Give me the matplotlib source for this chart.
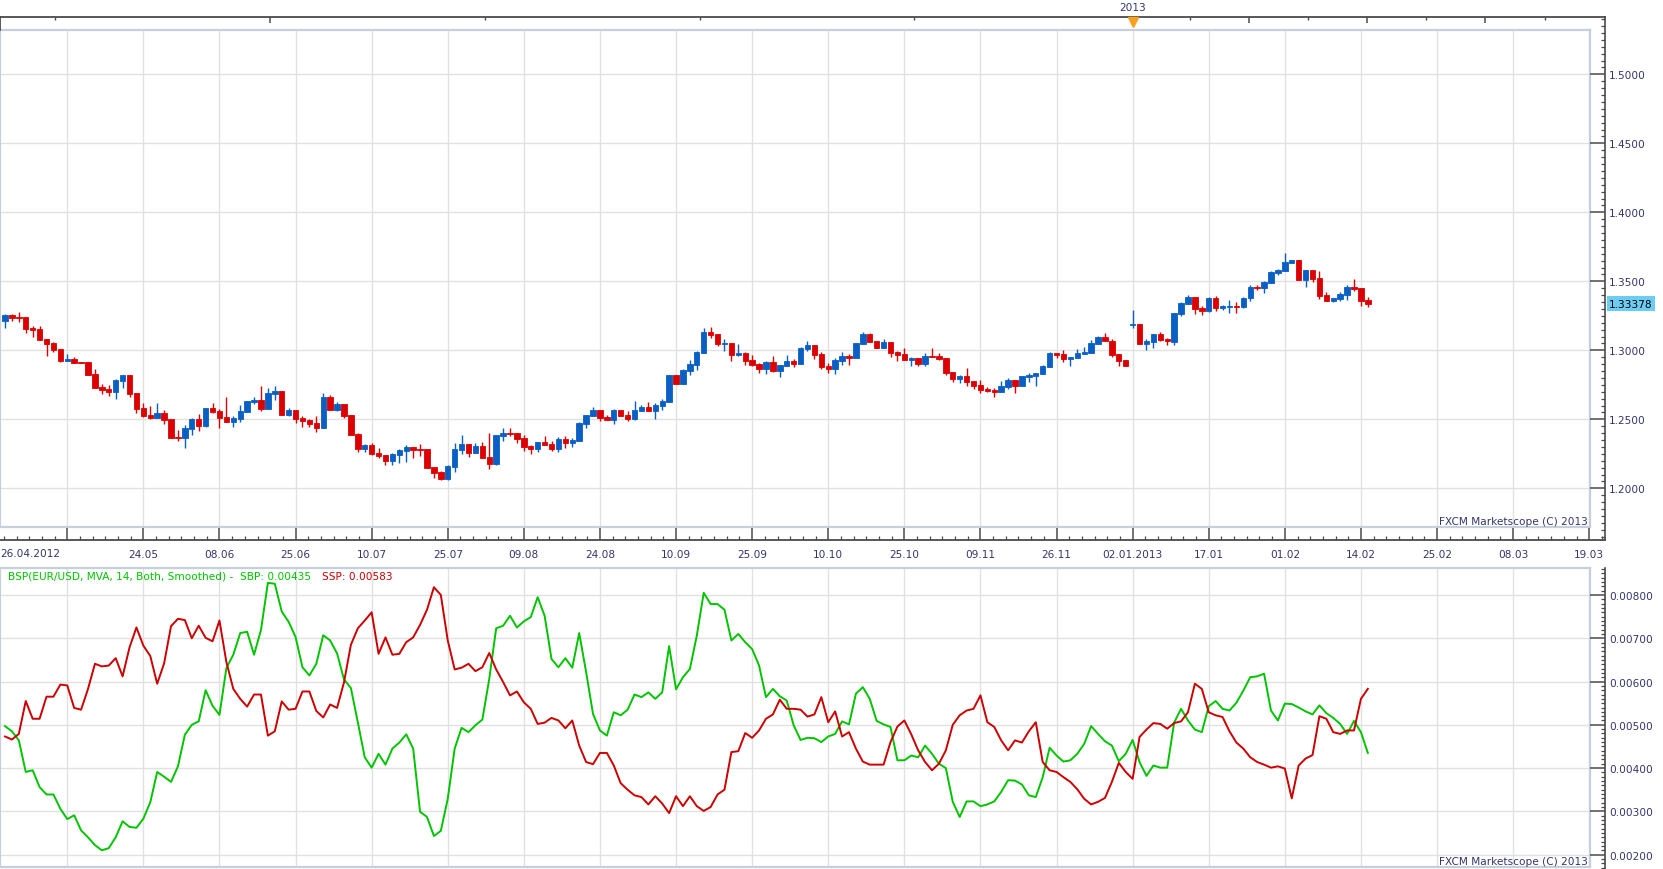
import matplotlib
matplotlib.use("Agg")
import matplotlib.pyplot as plt
import matplotlib.transforms as mtransforms
from matplotlib.ticker import FixedLocator, MultipleLocator, FormatStrFormatter
import numpy as np

# ---------------- data (EUR/USD daily candles) ----------------
opens = [1.3212, 1.3256, 1.3241, 1.3241, 1.3162, 1.3154, 1.3082, 1.3053, 1.3009, 1.2922,
         1.2937, 1.2915, 1.2915, 1.2828, 1.2734, 1.2720, 1.2698, 1.2778, 1.2821, 1.2691,
         1.2582, 1.2531, 1.2509, 1.2546, 1.2502, 1.2372, 1.2365, 1.2430, 1.2502, 1.2451,
         1.2582, 1.2560, 1.2517, 1.2480, 1.2502, 1.2553, 1.2626, 1.2640, 1.2575, 1.2683,
         1.2705, 1.2531, 1.2567, 1.2509, 1.2495, 1.2473, 1.2437, 1.2662, 1.2567, 1.2611,
         1.2531, 1.2394, 1.2285, 1.2314, 1.2256, 1.2241, 1.2198, 1.2241, 1.2270, 1.2299,
         1.2285, 1.2285, 1.2154, 1.2118, 1.2070, 1.2154, 1.2278, 1.2321, 1.2256, 1.2307,
         1.2227, 1.2176, 1.2379, 1.2401, 1.2401, 1.2365, 1.2307, 1.2285, 1.2336, 1.2321,
         1.2285, 1.2357, 1.2328, 1.2343, 1.2466, 1.2524, 1.2567, 1.2517, 1.2495, 1.2567,
         1.2531, 1.2502, 1.2560, 1.2589, 1.2560, 1.2596, 1.2626, 1.2821, 1.2756, 1.2850,
         1.2894, 1.2980, 1.3133, 1.3118, 1.3046, 1.3053, 1.2966, 1.2980, 1.2930, 1.2901,
         1.2865, 1.2915, 1.2850, 1.2886, 1.2922, 1.2901, 1.3009, 1.3038, 1.2973, 1.2886,
         1.2865, 1.2922, 1.2959, 1.2944, 1.3046, 1.3118, 1.3067, 1.3017, 1.3060, 1.2988,
         1.2973, 1.2930, 1.2944, 1.2901, 1.2959, 1.2959, 1.2944, 1.2843, 1.2792, 1.2814,
         1.2778, 1.2749, 1.2720, 1.2712, 1.2698, 1.2734, 1.2785, 1.2741, 1.2807, 1.2814,
         1.2828, 1.2879, 1.2980, 1.2973, 1.2937, 1.2944, 1.2973, 1.2980, 1.3046, 1.3094,
         1.3070, 1.2973, 1.2930, 1.3186, 1.3191, 1.3048, 1.3060, 1.3118, 1.3084, 1.3060,
         1.3265, 1.3338, 1.3386, 1.3309, 1.3287, 1.3379, 1.3309, 1.3311, 1.3319, 1.3314,
         1.3379, 1.3459, 1.3452, 1.3490, 1.3563, 1.3577, 1.3635, 1.3654, 1.3512, 1.3584,
         1.3524, 1.3401, 1.3360, 1.3372, 1.3403, 1.3459, 1.3452, 1.3364]
highs = [1.3265, 1.3265, 1.3280, 1.3241, 1.3176, 1.3176, 1.3082, 1.3060, 1.3009, 1.2973,
         1.2949, 1.2915, 1.2915, 1.2865, 1.2756, 1.2749, 1.2792, 1.2821, 1.2821, 1.2691,
         1.2618, 1.2596, 1.2618, 1.2567, 1.2502, 1.2422, 1.2459, 1.2509, 1.2538, 1.2582,
         1.2618, 1.2575, 1.2662, 1.2524, 1.2604, 1.2633, 1.2662, 1.2741, 1.2727, 1.2741,
         1.2705, 1.2582, 1.2567, 1.2524, 1.2502, 1.2524, 1.2691, 1.2676, 1.2626, 1.2611,
         1.2531, 1.2401, 1.2321, 1.2328, 1.2292, 1.2241, 1.2256, 1.2285, 1.2314, 1.2299,
         1.2321, 1.2285, 1.2154, 1.2125, 1.2169, 1.2328, 1.2386, 1.2321, 1.2328, 1.2336,
         1.2401, 1.2386, 1.2437, 1.2437, 1.2401, 1.2386, 1.2314, 1.2336, 1.2379, 1.2343,
         1.2372, 1.2379, 1.2365, 1.2480, 1.2531, 1.2589, 1.2567, 1.2531, 1.2575, 1.2567,
         1.2560, 1.2633, 1.2604, 1.2626, 1.2618, 1.2647, 1.2821, 1.2821, 1.2865, 1.2930,
         1.2995, 1.3162, 1.3169, 1.3118, 1.3082, 1.3053, 1.3046, 1.2988, 1.2966, 1.2908,
         1.2922, 1.2959, 1.2894, 1.2966, 1.2937, 1.3024, 1.3067, 1.3038, 1.2988, 1.2908,
         1.2944, 1.2988, 1.2973, 1.3053, 1.3133, 1.3125, 1.3067, 1.3082, 1.3060, 1.2995,
         1.3017, 1.2951, 1.2944, 1.2980, 1.3017, 1.2980, 1.2944, 1.2843, 1.2821, 1.2872,
         1.2778, 1.2785, 1.2734, 1.2727, 1.2778, 1.2799, 1.2785, 1.2814, 1.2836, 1.2836,
         1.2894, 1.2988, 1.2980, 1.3002, 1.2951, 1.3009, 1.3024, 1.3075, 1.3104, 1.3125,
         1.3082, 1.2973, 1.2930, 1.3292, 1.3191, 1.3082, 1.3118, 1.3133, 1.3089, 1.3270,
         1.3350, 1.3403, 1.3386, 1.3321, 1.3384, 1.3393, 1.3328, 1.3364, 1.3350, 1.3384,
         1.3473, 1.3473, 1.3502, 1.3577, 1.3592, 1.3708, 1.3654, 1.3654, 1.3584, 1.3584,
         1.3577, 1.3422, 1.3379, 1.3422, 1.3473, 1.3517, 1.3452, 1.3386]
lows = [1.3162, 1.3212, 1.3207, 1.3125, 1.3096, 1.3075, 1.2959, 1.2990, 1.2915, 1.2922,
        1.2908, 1.2908, 1.2821, 1.2727, 1.2683, 1.2669, 1.2647, 1.2727, 1.2662, 1.2546,
        1.2517, 1.2502, 1.2509, 1.2466, 1.2365, 1.2343, 1.2292, 1.2386, 1.2415, 1.2444,
        1.2546, 1.2437, 1.2480, 1.2444, 1.2480, 1.2553, 1.2611, 1.2560, 1.2575, 1.2640,
        1.2531, 1.2524, 1.2473, 1.2444, 1.2444, 1.2408, 1.2437, 1.2567, 1.2560, 1.2509,
        1.2386, 1.2263, 1.2263, 1.2241, 1.2220, 1.2169, 1.2169, 1.2183, 1.2191, 1.2220,
        1.2234, 1.2147, 1.2075, 1.2058, 1.2062, 1.2118, 1.2249, 1.2227, 1.2256, 1.2220,
        1.2140, 1.2169, 1.2343, 1.2379, 1.2328, 1.2270, 1.2249, 1.2263, 1.2314, 1.2270,
        1.2263, 1.2292, 1.2299, 1.2343, 1.2437, 1.2524, 1.2488, 1.2495, 1.2466, 1.2524,
        1.2488, 1.2495, 1.2560, 1.2560, 1.2502, 1.2567, 1.2626, 1.2756, 1.2756, 1.2821,
        1.2857, 1.2980, 1.3089, 1.3031, 1.2995, 1.2922, 1.2959, 1.2894, 1.2886, 1.2836,
        1.2828, 1.2843, 1.2807, 1.2886, 1.2879, 1.2901, 1.2995, 1.2937, 1.2865, 1.2836,
        1.2828, 1.2894, 1.2894, 1.2944, 1.3046, 1.3060, 1.3017, 1.3017, 1.2951, 1.2922,
        1.2930, 1.2886, 1.2886, 1.2886, 1.2951, 1.2930, 1.2821, 1.2770, 1.2763, 1.2741,
        1.2720, 1.2691, 1.2698, 1.2662, 1.2698, 1.2720, 1.2691, 1.2741, 1.2770, 1.2741,
        1.2828, 1.2879, 1.2944, 1.2915, 1.2886, 1.2944, 1.2973, 1.2980, 1.3046, 1.3065,
        1.2951, 1.2884, 1.2889, 1.3164, 1.3048, 1.3005, 1.3019, 1.3067, 1.3041, 1.3041,
        1.3249, 1.3338, 1.3265, 1.3258, 1.3278, 1.3287, 1.3290, 1.3273, 1.3273, 1.3309,
        1.3355, 1.3435, 1.3418, 1.3490, 1.3548, 1.3577, 1.3635, 1.3509, 1.3461, 1.3497,
        1.3372, 1.3360, 1.3350, 1.3357, 1.3367, 1.3430, 1.3321, 1.3314]
closes = [1.3256, 1.3234, 1.3234, 1.3154, 1.3149, 1.3075, 1.3046, 1.3005, 1.2922, 1.2937,
          1.2908, 1.2908, 1.2821, 1.2727, 1.2712, 1.2698, 1.2785, 1.2821, 1.2683, 1.2575,
          1.2524, 1.2509, 1.2546, 1.2495, 1.2365, 1.2365, 1.2437, 1.2502, 1.2451, 1.2582,
          1.2553, 1.2509, 1.2480, 1.2509, 1.2560, 1.2633, 1.2640, 1.2575, 1.2691, 1.2705,
          1.2531, 1.2567, 1.2502, 1.2488, 1.2466, 1.2437, 1.2662, 1.2567, 1.2611, 1.2524,
          1.2386, 1.2285, 1.2314, 1.2249, 1.2234, 1.2198, 1.2249, 1.2278, 1.2299, 1.2278,
          1.2278, 1.2147, 1.2111, 1.2068, 1.2162, 1.2285, 1.2321, 1.2256, 1.2307, 1.2220,
          1.2176, 1.2386, 1.2401, 1.2394, 1.2357, 1.2299, 1.2285, 1.2336, 1.2314, 1.2285,
          1.2357, 1.2328, 1.2350, 1.2473, 1.2531, 1.2567, 1.2509, 1.2495, 1.2567, 1.2524,
          1.2502, 1.2567, 1.2589, 1.2560, 1.2604, 1.2633, 1.2821, 1.2756, 1.2857, 1.2901,
          1.2988, 1.3133, 1.3111, 1.3046, 1.3053, 1.2966, 1.2980, 1.2922, 1.2894, 1.2865,
          1.2915, 1.2850, 1.2894, 1.2922, 1.2901, 1.3017, 1.3038, 1.2966, 1.2879, 1.2865,
          1.2930, 1.2959, 1.2944, 1.3053, 1.3118, 1.3060, 1.3017, 1.3060, 1.2980, 1.2966,
          1.2930, 1.2944, 1.2901, 1.2959, 1.2951, 1.2937, 1.2836, 1.2792, 1.2814, 1.2770,
          1.2741, 1.2712, 1.2705, 1.2698, 1.2741, 1.2785, 1.2741, 1.2814, 1.2821, 1.2836,
          1.2886, 1.2980, 1.2966, 1.2937, 1.2951, 1.2980, 1.2988, 1.3053, 1.3096, 1.3065,
          1.2966, 1.2922, 1.2889, 1.3191, 1.3048, 1.3067, 1.3118, 1.3077, 1.3065, 1.3270,
          1.3343, 1.3386, 1.3302, 1.3287, 1.3379, 1.3306, 1.3319, 1.3319, 1.3314, 1.3379,
          1.3459, 1.3454, 1.3495, 1.3570, 1.3584, 1.3642, 1.3654, 1.3509, 1.3584, 1.3519,
          1.3393, 1.3360, 1.3379, 1.3408, 1.3459, 1.3444, 1.3360, 1.33378]

# BSP indicator: SBP (green) and SSP (red)
sbp = [0.00497, 0.00485, 0.00464, 0.00391, 0.00395, 0.00356, 0.00339, 0.00339, 0.00306, 0.00282,
       0.00291, 0.00256, 0.00240, 0.00222, 0.00210, 0.00215, 0.00240, 0.00277, 0.00264, 0.00262,
       0.00283, 0.00321, 0.00391, 0.00380, 0.00368, 0.00404, 0.00477, 0.00500, 0.00508, 0.00580,
       0.00544, 0.00523, 0.00631, 0.00662, 0.00712, 0.00715, 0.00662, 0.00719, 0.00828, 0.00826,
       0.00762, 0.00738, 0.00703, 0.00633, 0.00614, 0.00641, 0.00707, 0.00695, 0.00665, 0.00605,
       0.00585, 0.00506, 0.00425, 0.00401, 0.00433, 0.00408, 0.00445, 0.00459, 0.00478, 0.00445,
       0.00299, 0.00287, 0.00243, 0.00255, 0.00329, 0.00445, 0.00493, 0.00483, 0.00499, 0.00512,
       0.00606, 0.00723, 0.00729, 0.00752, 0.00725, 0.00739, 0.00749, 0.00795, 0.00752, 0.00652,
       0.00633, 0.00654, 0.00632, 0.00712, 0.00622, 0.00525, 0.00487, 0.00475, 0.00529, 0.00522,
       0.00535, 0.00570, 0.00564, 0.00575, 0.00560, 0.00575, 0.00682, 0.00582, 0.00610, 0.00629,
       0.00706, 0.00805, 0.00779, 0.00779, 0.00766, 0.00695, 0.00710, 0.00691, 0.00675, 0.00637,
       0.00564, 0.00583, 0.00566, 0.00556, 0.00499, 0.00465, 0.00470, 0.00469, 0.00460, 0.00473,
       0.00479, 0.00508, 0.00501, 0.00572, 0.00587, 0.00560, 0.00509, 0.00501, 0.00495, 0.00418,
       0.00418, 0.00429, 0.00425, 0.00452, 0.00433, 0.00410, 0.00400, 0.00322, 0.00287, 0.00323,
       0.00323, 0.00312, 0.00316, 0.00323, 0.00345, 0.00372, 0.00371, 0.00362, 0.00337, 0.00333,
       0.00379, 0.00447, 0.00429, 0.00415, 0.00418, 0.00433, 0.00456, 0.00497, 0.00479, 0.00462,
       0.00452, 0.00416, 0.00433, 0.00465, 0.00414, 0.00382, 0.00406, 0.00401, 0.00401, 0.00505,
       0.00537, 0.00510, 0.00489, 0.00483, 0.00543, 0.00555, 0.00537, 0.00533, 0.00551, 0.00579,
       0.00610, 0.00612, 0.00618, 0.00533, 0.00510, 0.00549, 0.00548, 0.00540, 0.00531, 0.00524,
       0.00545, 0.00527, 0.00516, 0.00502, 0.00479, 0.00509, 0.00483, 0.00435]
ssp = [0.00473, 0.00466, 0.00479, 0.00555, 0.00514, 0.00514, 0.00565, 0.00565, 0.00593, 0.00591,
       0.00539, 0.00535, 0.00583, 0.00641, 0.00635, 0.00637, 0.00654, 0.00612, 0.00679, 0.00725,
       0.00683, 0.00659, 0.00595, 0.00642, 0.00728, 0.00745, 0.00742, 0.00700, 0.00729, 0.00701,
       0.00693, 0.00741, 0.00645, 0.00583, 0.00560, 0.00542, 0.00570, 0.00570, 0.00475, 0.00485,
       0.00554, 0.00535, 0.00537, 0.00577, 0.00577, 0.00532, 0.00517, 0.00547, 0.00539, 0.00598,
       0.00685, 0.00723, 0.00741, 0.00760, 0.00664, 0.00702, 0.00662, 0.00664, 0.00691, 0.00702,
       0.00731, 0.00766, 0.00818, 0.00800, 0.00695, 0.00628, 0.00632, 0.00641, 0.00624, 0.00633,
       0.00666, 0.00628, 0.00599, 0.00568, 0.00577, 0.00552, 0.00537, 0.00502, 0.00505, 0.00516,
       0.00510, 0.00492, 0.00510, 0.00452, 0.00414, 0.00409, 0.00435, 0.00435, 0.00406, 0.00365,
       0.00350, 0.00337, 0.00333, 0.00316, 0.00335, 0.00318, 0.00296, 0.00335, 0.00312, 0.00335,
       0.00312, 0.00301, 0.00310, 0.00339, 0.00350, 0.00437, 0.00439, 0.00481, 0.00470, 0.00487,
       0.00514, 0.00524, 0.00558, 0.00537, 0.00537, 0.00535, 0.00519, 0.00524, 0.00564, 0.00506,
       0.00531, 0.00473, 0.00483, 0.00445, 0.00415, 0.00408, 0.00408, 0.00408, 0.00460, 0.00496,
       0.00510, 0.00478, 0.00441, 0.00414, 0.00395, 0.00410, 0.00441, 0.00500, 0.00522, 0.00533,
       0.00537, 0.00568, 0.00506, 0.00495, 0.00464, 0.00441, 0.00464, 0.00459, 0.00485, 0.00506,
       0.00414, 0.00395, 0.00391, 0.00379, 0.00368, 0.00351, 0.00329, 0.00316, 0.00322, 0.00331,
       0.00368, 0.00412, 0.00391, 0.00375, 0.00472, 0.00489, 0.00504, 0.00502, 0.00491, 0.00504,
       0.00508, 0.00529, 0.00595, 0.00583, 0.00529, 0.00522, 0.00518, 0.00485, 0.00459, 0.00445,
       0.00425, 0.00414, 0.00408, 0.00401, 0.00404, 0.00399, 0.00330, 0.00406, 0.00422, 0.00430,
       0.00520, 0.00514, 0.00483, 0.00479, 0.00487, 0.00487, 0.00560, 0.00583]

first_date_label = "26.04.2012"
date_labels = ["24.05", "08.06", "25.06", "10.07", "25.07", "09.08", "24.08", "10.09",
               "25.09", "10.10", "25.10", "09.11", "26.11", "02.01.2013", "17.01", "01.02",
               "14.02", "25.02", "08.03", "19.03"]
price_ticks = [1.20, 1.25, 1.30, 1.35, 1.40, 1.45, 1.50]
ind_ticks = [0.002, 0.003, 0.004, 0.005, 0.006, 0.007, 0.008]
year_label = "2013"
year_bar = 163
last_price_label = "1.33378"
legend_green = "BSP(EUR/USD, MVA, 14, Both, Smoothed) -  SBP: 0.00435"
legend_red = "SSP: 0.00583"
watermark = "FXCM Marketscope (C) 2013"

# ---------------- layout helpers (pixel geometry) ----------------
W, H, DPI = 1663, 870, 100
PT = 72.0 / DPI
BAR0_PX, BAR_STEP_PX = 5.0, 6.918


def px_to_bar(x):
    return (x - BAR0_PX) / BAR_STEP_PX


def py_to_price(y):
    return 1.35 - (y - 282.3) * (0.05 / 69.0)


def py_to_ind(y):
    return 0.008 - (y - 596.0) * (0.001 / 43.27)


def rect(x0, y0, x1, y1):
    return [x0 / W, 1 - y1 / H, (x1 - x0) / W, (y1 - y0) / H]


TEXT = "#35356b"
GRID = "#e1e1e1"
FRAME = "#c6cfdb"
AXLINE = "#4a4a4a"
FS = 7.6
BLUE = "#0a5fc4"
RED = "#dd0000"
GREEN = "#00c400"
DKRED = "#cc0000"

plt.rcParams["font.family"] = ["DejaVu Sans"]
fig = plt.figure(figsize=(W / DPI, H / DPI), dpi=DPI)
fig.patch.set_facecolor("white")

O = np.array(opens)
Hh = np.array(highs)
L = np.array(lows)
C = np.array(closes)
idx = np.arange(len(O))
grid_bars = [9 + 11 * k for k in range(21)]


def style_panel(a):
    a.set_axisbelow(True)
    a.grid(True, color=GRID, lw=1.0)
    a.tick_params(length=0, labelbottom=False, labelleft=False)
    for s in a.spines.values():
        s.set_color(FRAME)
        s.set_linewidth(1.6)


def style_scale(a, ticks, fmt, minor_step, ylim):
    a.set_ylim(*ylim)
    a.set_xlim(0, 1)
    a.patch.set_alpha(0)
    for k in ("left", "top", "bottom"):
        a.spines[k].set_visible(False)
    a.spines["right"].set_color(AXLINE)
    a.spines["right"].set_linewidth(1.2)
    a.xaxis.set_visible(False)
    a.yaxis.tick_right()
    a.set_yticks(ticks)
    a.yaxis.set_major_formatter(FormatStrFormatter(fmt))
    a.yaxis.set_minor_locator(MultipleLocator(minor_step))
    a.tick_params(axis="y", which="major", direction="in", length=15 * PT, width=1.1,
                  color=AXLINE, labelsize=FS, labelcolor=TEXT, pad=3)
    a.tick_params(axis="y", which="minor", direction="in", length=4 * PT, width=0.9,
                  color=AXLINE)


# ---------------- main candlestick panel ----------------
ax = fig.add_axes(rect(0, 31, 1590, 528))
ax.set_xlim(px_to_bar(0), px_to_bar(1590))
ax.set_ylim(py_to_price(528), py_to_price(31))
ax.set_xticks(grid_bars)
ax.set_yticks(price_ticks)
style_panel(ax)

up = C >= O
cols = np.where(up, BLUE, RED)
ax.vlines(idx, L, Hh, colors=cols, lw=1.0, zorder=3)
ax.bar(idx, np.abs(C - O), bottom=np.minimum(O, C), width=0.78, color=cols,
       edgecolor=cols, linewidth=0.6, zorder=4)

fig.text(1588 / W, 1 - 522.5 / H, watermark, ha="right", va="center", fontsize=FS, color=TEXT)

# right price scale
axr = fig.add_axes(rect(1590, 18, 1605, 541))
style_scale(axr, price_ticks, "%.4f", 0.005, (py_to_price(541), py_to_price(18)))
trans_r = mtransforms.blended_transform_factory(axr.transAxes, axr.transData)
axr.text((1609 - 1590) / 15.0, closes[-1], last_price_label, transform=trans_r,
         ha="left", va="center", fontsize=FS, color="black",
         bbox=dict(boxstyle="square,pad=0.22", fc="#6ccdf4", ec="none"), zorder=5)

# bottom time scale
axb = fig.add_axes(rect(0, 528, 1605, 541))
axb.set_xlim(px_to_bar(0), px_to_bar(1605))
axb.set_ylim(0, 1)
axb.patch.set_alpha(0)
for k in ("left", "top", "right"):
    axb.spines[k].set_visible(False)
axb.spines["bottom"].set_color(AXLINE)
axb.spines["bottom"].set_linewidth(1.3)
axb.yaxis.set_visible(False)
axb.set_xticks(grid_bars)
axb.set_xticklabels([""] + date_labels)
minor_pos = [b + 11 * j / 6.0 for b in [-2] + grid_bars for j in range(1, 6)]
minor_pos = [m for m in minor_pos if px_to_bar(0) < m < px_to_bar(1605)]
axb.xaxis.set_minor_locator(FixedLocator(minor_pos))
axb.tick_params(axis="x", which="major", direction="in", length=12 * PT, width=1.1,
                color=AXLINE, labelsize=FS, labelcolor=TEXT, pad=6.5)
axb.tick_params(axis="x", which="minor", direction="in", length=4 * PT, width=0.9,
                color=AXLINE)
fig.text(0.5 / W, 1 - 554.5 / H, first_date_label, ha="left", va="center",
         fontsize=FS, color=TEXT)

# top overview strip
axt = fig.add_axes(rect(0, 18, 1605, 31))
axt.set_xlim(px_to_bar(0), px_to_bar(1605))
axt.set_ylim(0, 1)
axt.patch.set_alpha(0)
for k in ("bottom", "right"):
    axt.spines[k].set_visible(False)
for k in ("top", "left"):
    axt.spines[k].set_color(AXLINE)
    axt.spines[k].set_linewidth(1.3)
axt.yaxis.set_visible(False)
axt.xaxis.tick_top()
long_top = [px_to_bar(p) for p in (270, 1249, 1367, 1485)] + [year_bar]
short_top = [px_to_bar(p) for p in (55, 485, 700, 914, 1190, 1308, 1426, 1545)]
axt.xaxis.set_major_locator(FixedLocator(long_top))
axt.xaxis.set_minor_locator(FixedLocator(short_top))
axt.tick_params(axis="x", which="major", direction="in", length=6 * PT, width=1.1,
                color=AXLINE, labeltop=False, labelbottom=False)
axt.tick_params(axis="x", which="minor", direction="in", length=3 * PT, width=1.0,
                color=AXLINE)
trans_t = mtransforms.blended_transform_factory(axt.transData, axt.transAxes)
axt.plot([year_bar], [0.60], marker="v", ms=7, color="#f6a11a", transform=trans_t,
         clip_on=False, zorder=5)
axt.text(year_bar, (31 - 8) / 13.0, year_label, transform=trans_t, ha="center",
         va="center", fontsize=FS, color=TEXT)

# ---------------- lower indicator panel ----------------
axl = fig.add_axes(rect(0, 569, 1590, 868))
axl.set_xlim(px_to_bar(0), px_to_bar(1590))
axl.set_ylim(py_to_ind(868), py_to_ind(569))
axl.set_xticks(grid_bars)
axl.set_yticks(ind_ticks)
style_panel(axl)
axl.plot(idx, sbp, color=GREEN, lw=1.4, zorder=3)
axl.plot(idx, ssp, color=DKRED, lw=1.4, zorder=3)

axlr = fig.add_axes(rect(1590, 569, 1605, 870))
style_scale(axlr, ind_ticks, "%.5f", 0.0001, (py_to_ind(870), py_to_ind(569)))

t1 = fig.text(8 / W, 1 - 577 / H, legend_green, ha="left", va="center", fontsize=FS,
              color=GREEN)
renderer = fig.canvas.get_renderer()
bb = t1.get_window_extent(renderer=renderer)
fig.text((bb.x1 + 11) / W, 1 - 577 / H, legend_red, ha="left", va="center",
         fontsize=FS, color=DKRED)
fig.text(1588 / W, 1 - 862 / H, watermark, ha="right", va="center", fontsize=FS, color=TEXT)

fig.savefig("out.png", dpi=DPI, facecolor="white")
